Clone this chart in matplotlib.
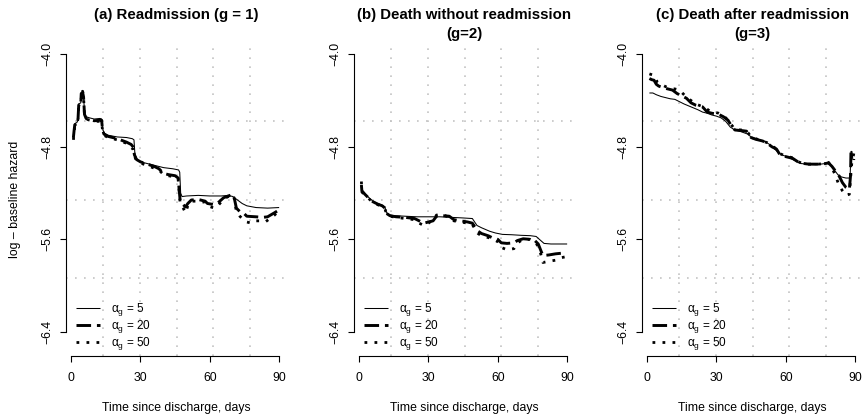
import numpy as np
import matplotlib
matplotlib.use("Agg")
import matplotlib.pyplot as plt

plt.rcParams['font.family'] = ['Liberation Sans', 'DejaVu Sans']

# panel titles, legend values and axis ticks
titles = [["(a) Readmission (g = 1)"],
          ["(b) Death without readmission", "(g=2)"],
          ["(c) Death after readmission", "(g=3)"]]
alphas = [5, 20, 50]
x_ticks = [0, 30, 60, 90]
y_ticks = [-6.4, -5.6, -4.8, -4.0]

# (a) readmission: (day, log baseline hazard)
readm_a5 = [(1.0, -4.70), (1.3, -4.66), (1.6, -4.60), (2.5, -4.59), (3.0, -4.57), (3.3, -4.43),
            (4.2, -4.42), (4.4, -4.36), (5.0, -4.34), (5.4, -4.36), (5.8, -4.50), (6.5, -4.54),
            (8, -4.55), (10, -4.56), (12.5, -4.555), (13.2, -4.56), (13.6, -4.64), (14.2, -4.68),
            (16, -4.70), (20, -4.715), (24, -4.72), (26.5, -4.73), (27.2, -4.74), (27.6, -4.86),
            (28.3, -4.90), (29, -4.92), (32, -4.94), (36, -4.96), (40, -4.98), (44, -4.99),
            (46.5, -5.00), (47.0, -5.02), (47.4, -5.20), (48, -5.23), (50, -5.225), (55, -5.22),
            (60, -5.225), (65, -5.225), (68, -5.22), (70, -5.23), (72, -5.26), (74, -5.29),
            (76, -5.31), (80, -5.325), (85, -5.33), (90, -5.325)]
readm_a20 = [(1.0, -4.72), (1.3, -4.66), (1.6, -4.61), (2.5, -4.60), (3.0, -4.56), (3.3, -4.44),
             (4.2, -4.42), (4.4, -4.34), (5.0, -4.33), (5.4, -4.37), (5.8, -4.52), (6.5, -4.555),
             (8, -4.565), (10, -4.575), (12.5, -4.57), (13.2, -4.57), (13.6, -4.65), (14.2, -4.69),
             (16, -4.71), (20, -4.73), (22, -4.745), (24, -4.76), (26, -4.78), (26.8, -4.80),
             (27.4, -4.87), (28.3, -4.91), (30, -4.93), (33, -4.95), (36, -4.97), (38, -4.99),
             (40, -5.03), (42, -5.04), (45, -5.05), (46.3, -5.07), (47.2, -5.27), (48.5, -5.30),
             (49.5, -5.32), (50.5, -5.29), (52, -5.26), (55, -5.255), (58, -5.27), (59, -5.29),
             (62, -5.30), (63.5, -5.285), (66, -5.24), (68, -5.225), (69.5, -5.215), (70.5, -5.235),
             (71.5, -5.33), (73, -5.36), (74.5, -5.37), (76, -5.40), (80, -5.405), (83, -5.41),
             (85, -5.405), (88, -5.37), (90, -5.345)]
readm_a50 = [(1.0, -4.74), (1.3, -4.68), (1.6, -4.62), (2.5, -4.60), (3.0, -4.56), (3.3, -4.44),
             (4.2, -4.41), (4.4, -4.33), (5.0, -4.32), (5.4, -4.37), (5.8, -4.53), (6.5, -4.56),
             (8, -4.57), (10, -4.58), (13.2, -4.58), (13.6, -4.66), (14.2, -4.70), (16, -4.72),
             (20, -4.74), (24, -4.77), (26.8, -4.82), (27.4, -4.88), (28.3, -4.92), (30, -4.94),
             (34, -4.97), (38, -5.00), (40, -5.04), (42, -5.05), (45, -5.06), (46.3, -5.08),
             (47.2, -5.29), (48.5, -5.33), (49.5, -5.37), (50.5, -5.31), (52, -5.27), (55, -5.27),
             (58, -5.28), (59, -5.31), (62, -5.33), (63.5, -5.31), (66, -5.25), (68, -5.23),
             (69.5, -5.21), (70.5, -5.24), (71.5, -5.36), (73, -5.40), (74.5, -5.43), (76, -5.45),
             (78, -5.46), (80, -5.44), (82, -5.44), (84, -5.45), (86, -5.42), (88, -5.39), (90, -5.35)]

# (b) death without readmission
death_a5 = [(1.0, -5.14), (1.5, -5.18), (2.5, -5.21), (4, -5.235), (6, -5.27), (8, -5.29),
            (10, -5.305), (11.2, -5.32), (11.8, -5.37), (13.3, -5.39), (15, -5.395), (20, -5.40),
            (25, -5.405), (30, -5.405), (35, -5.405), (40, -5.41), (45, -5.415), (49, -5.42),
            (50, -5.45), (51, -5.48), (53, -5.50), (56.5, -5.53), (59, -5.545), (62, -5.557),
            (66, -5.56), (70, -5.565), (74, -5.568), (76.6, -5.575), (78, -5.60), (80, -5.635),
            (83, -5.64), (90, -5.64)]
death_a20 = [(1.0, -5.13), (1.2, -5.18), (2.5, -5.21), (4, -5.24), (6, -5.275), (8, -5.295),
             (10, -5.31), (11.2, -5.33), (11.8, -5.375), (13.3, -5.395), (16, -5.405), (20, -5.41),
             (24, -5.42), (26, -5.44), (28, -5.46), (30, -5.45), (32, -5.44), (33.5, -5.40),
             (36, -5.395), (39, -5.40), (41, -5.43), (44, -5.44), (47, -5.45), (49, -5.46),
             (50, -5.49), (51.5, -5.53), (53, -5.55), (56, -5.57), (58, -5.59), (60, -5.60),
             (61.5, -5.63), (64, -5.635), (67, -5.63), (68.5, -5.61), (71, -5.595), (74, -5.60),
             (76, -5.61), (77.5, -5.64), (78.5, -5.69), (79.5, -5.74), (82, -5.735), (85, -5.725),
             (87.5, -5.72)]
death_a50 = [(1.0, -5.10), (1.2, -5.19), (2.5, -5.22), (4, -5.245), (6, -5.28), (8, -5.30),
             (10, -5.315), (11.2, -5.335), (11.8, -5.38), (13.3, -5.40), (16, -5.41), (20, -5.42),
             (24, -5.43), (26, -5.46), (28, -5.48), (30, -5.46), (32, -5.43), (33.5, -5.39),
             (36, -5.385), (39, -5.41), (41, -5.44), (44, -5.45), (47, -5.46), (49, -5.47),
             (50, -5.51), (51.5, -5.55), (53, -5.57), (56, -5.585), (58, -5.60), (60, -5.62),
             (61.5, -5.67), (64, -5.69), (67, -5.68), (68.5, -5.63), (71, -5.60), (74, -5.60),
             (76, -5.62), (77.5, -5.66), (78.5, -5.72), (79.5, -5.80), (82, -5.79), (85, -5.78),
             (87, -5.76), (89.5, -5.75)]

# (c) death after readmission
after_a5 = [(1.0, -4.335), (2.5, -4.335), (4, -4.35), (6, -4.365), (8, -4.375), (10, -4.385),
            (12, -4.39), (14, -4.41), (16, -4.43), (19, -4.455), (22, -4.48), (24, -4.50),
            (26, -4.51), (28, -4.525), (30, -4.535), (32, -4.55), (34, -4.58), (36, -4.63),
            (38, -4.655), (40, -4.665), (43.5, -4.69), (45, -4.715), (47, -4.73), (49.3, -4.745),
            (51, -4.755), (53, -4.78), (55, -4.815), (57, -4.855), (59, -4.875), (61, -4.89),
            (63, -4.91), (65, -4.93), (66.6, -4.945), (70, -4.95), (73, -4.955), (75, -4.95),
            (77, -4.945), (78.2, -4.935), (79.5, -4.955), (81, -5.0), (82.5, -5.04), (84, -5.06),
            (86, -5.07), (87.8, -5.07), (88.2, -4.84), (88.6, -4.84), (89, -4.91), (90, -4.91)]
after_a20 = [(1.0, -4.21), (2.0, -4.22), (3, -4.225), (4, -4.26), (5, -4.275), (7, -4.29),
             (9, -4.30), (11, -4.31), (13, -4.34), (15, -4.36), (17, -4.38), (19, -4.42),
             (21, -4.44), (24, -4.455), (26, -4.50), (28, -4.51), (31, -4.52), (33, -4.54),
             (35, -4.57), (36.5, -4.62), (38, -4.655), (41, -4.66), (43, -4.665), (45, -4.72),
             (47, -4.735), (50, -4.75), (52, -4.77), (54, -4.80), (56, -4.82), (57.5, -4.87),
             (60, -4.885), (63, -4.90), (66, -4.94), (70, -4.95), (74, -4.95), (77, -4.945),
             (78.5, -4.94), (80, -4.97), (81.5, -5.01), (83, -5.05), (84.5, -5.11), (86, -5.15),
             (87.5, -5.17), (88.0, -5.05), (88.2, -4.83)]
after_a50 = [(1.0, -4.17), (2.5, -4.18), (3.5, -4.20), (4.5, -4.245), (6, -4.26), (8, -4.28),
             (10, -4.295), (12, -4.30), (14, -4.31), (15, -4.33), (17, -4.37), (19, -4.40),
             (21, -4.43), (23, -4.445), (25, -4.46), (27, -4.49), (29, -4.50), (31, -4.51),
             (33, -4.53), (35, -4.57), (36.5, -4.61), (38, -4.65), (41, -4.655), (43, -4.66),
             (45, -4.715), (47, -4.73), (50, -4.75), (52, -4.765), (54, -4.79), (56, -4.82),
             (57.5, -4.86), (60, -4.88), (63, -4.895), (66, -4.935), (70, -4.95), (74, -4.95),
             (77, -4.945), (78.5, -4.935), (80, -4.98), (81.5, -5.05), (83, -5.13), (84.5, -5.18),
             (86, -5.22), (87.5, -5.21), (88.5, -4.95), (90, -4.80)]

panels = [[readm_a5, readm_a20, readm_a50],
          [death_a5, death_a20, death_a50],
          [after_a5, after_a20, after_a50]]

# line styles for alpha = 5, 20, 50
styles = [dict(lw=0.75, ls='-'),
          dict(lw=2.1, ls=(0, (5, 2))),
          dict(lw=2.0, ls=(0, (1, 2.6)))]

W, H = 864.0, 415.0
xlim = (-2.2, 93.4)
ylim = (-6.608, -3.903)

fig = plt.figure(figsize=(8.64, 4.15), dpi=100)

for i, series in enumerate(panels):
    left = 66 + 288 * i
    ax = fig.add_axes([left / W, 59 / H, 221 / W, 313 / H])
    ax.set_xlim(*xlim)
    ax.set_ylim(*ylim)

    # R style grid(6, 4): dotted light grey
    for gx in np.linspace(xlim[0], xlim[1], 7)[1:-1]:
        ax.axvline(gx, color='#c4c4c4', lw=1.2, ls=(0, (1, 4.4)), zorder=0)
    for gy in np.linspace(ylim[0], ylim[1], 5)[1:-1]:
        ax.axhline(gy, color='#c4c4c4', lw=1.2, ls=(0, (1, 4.4)), zorder=0)

    handles = []
    for pts, st in zip(series, styles):
        d = [p[0] for p in pts]
        v = [p[1] for p in pts]
        h, = ax.plot(d, v, color='black', solid_capstyle='butt', **st)
        handles.append(h)

    labels = ['α$_\\mathregular{g}$ = %d' % a for a in alphas]
    ax.legend(handles, labels, loc='lower left', bbox_to_anchor=(0.045, 0.012),
              frameon=False, fontsize=8.5, handlelength=2.0, handletextpad=0.95,
              labelspacing=0.0, borderpad=0, borderaxespad=0)

    for s in ['top', 'right']:
        ax.spines[s].set_visible(False)
    ax.spines['left'].set_bounds(y_ticks[0], y_ticks[-1])
    ax.spines['bottom'].set_bounds(x_ticks[0], x_ticks[-1])
    ax.spines['left'].set_linewidth(0.8)
    ax.spines['bottom'].set_linewidth(0.8)

    ax.set_xticks(x_ticks)
    ax.set_xticklabels([str(t) for t in x_ticks])
    ax.set_yticks(y_ticks)
    ax.set_yticklabels([('%.1f' % t).replace('-', '\u2212') for t in y_ticks],
                       rotation=90, va='center')
    ax.tick_params(direction='out', length=4.3, width=0.8, labelsize=8.8)
    ax.tick_params(axis='x', pad=7.5)
    ax.tick_params(axis='y', pad=4.5)

    xc = (left + 110.5) / W
    for k, line in enumerate(titles[i]):
        fig.text(xc, 1 - (15.5 + 18.5 * k) / H, line, ha='center', va='center',
                 fontsize=10.8, fontweight='bold')
    fig.text(xc, 1 - 408 / H, 'Time since discharge, days', ha='center', va='center', fontsize=8.8)

fig.text(15 / W, 1 - 199.5 / H, 'log \u2013 baseline hazard', rotation=90,
         ha='center', va='center', fontsize=8.8)

fig.savefig('out.png', dpi=100)
